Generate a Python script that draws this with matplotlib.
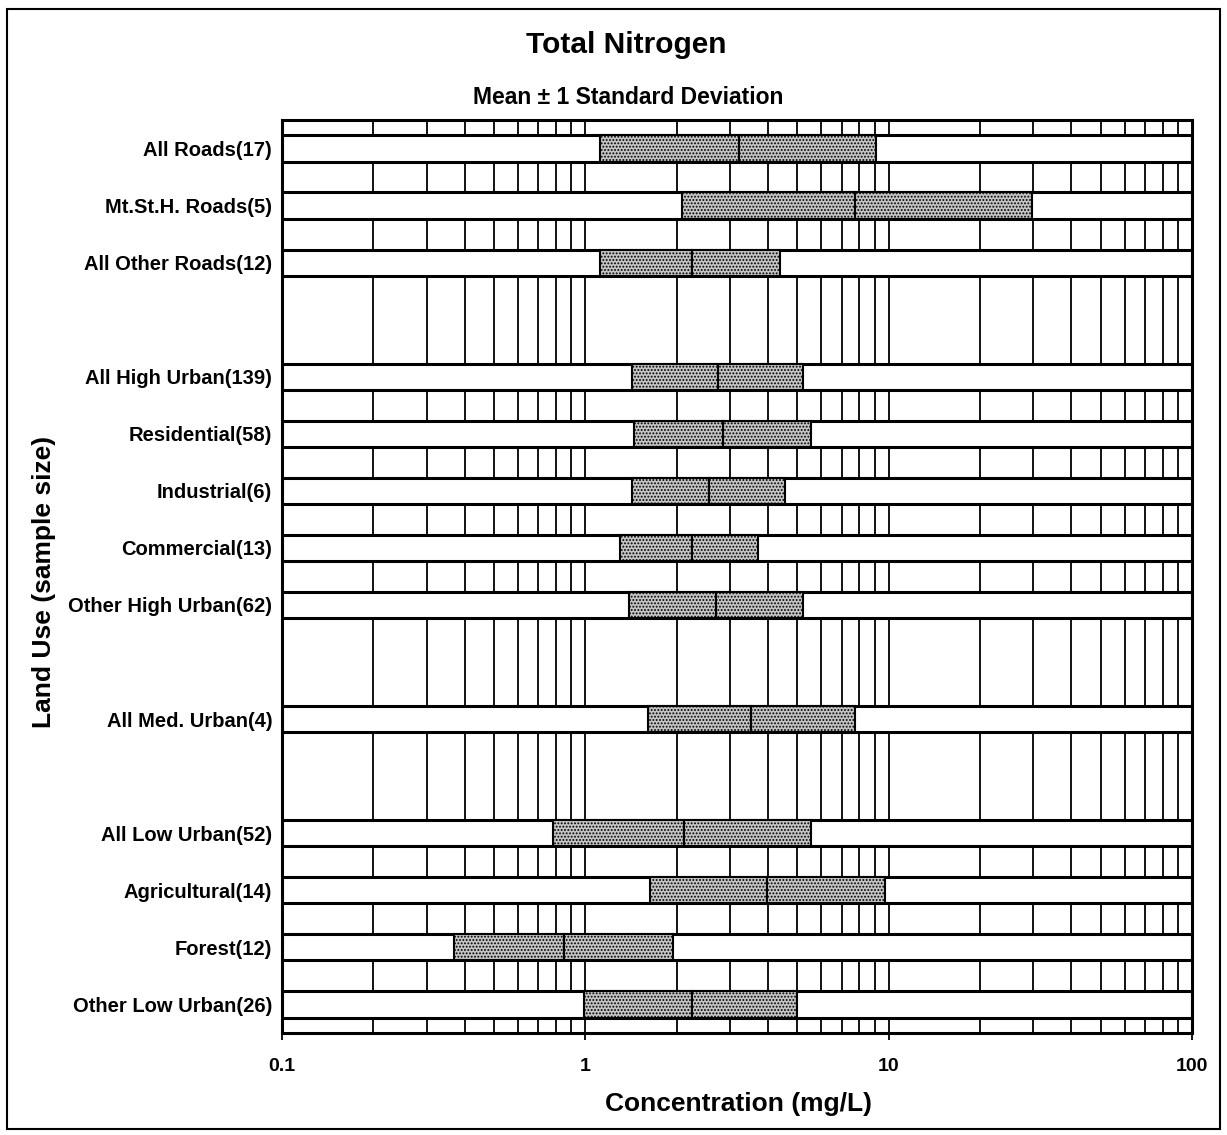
import numpy as np
import matplotlib.pyplot as plt
from matplotlib.patches import Rectangle

# categorias (de arriba hacia abajo) y su posicion de fila
labels = ['All Roads(17)', 'Mt.St.H. Roads(5)', 'All Other Roads(12)',
          'All High Urban(139)', 'Residential(58)', 'Industrial(6)',
          'Commercial(13)', 'Other High Urban(62)',
          'All Med. Urban(4)',
          'All Low Urban(52)', 'Agricultural(14)', 'Forest(12)',
          'Other Low Urban(26)']
rows = [0, 1, 2, 4, 5, 6, 7, 8, 10, 12, 13, 14, 15]

# media - 1 DE, media, media + 1 DE (mg/L)
lower = [1.12, 2.09, 1.12, 1.42, 1.45, 1.42, 1.30, 1.39, 1.61, 0.78, 1.63, 0.37, 0.99]
mean = [3.20, 7.72, 2.25, 2.73, 2.85, 2.55, 2.24, 2.69, 3.53, 2.11, 3.96, 0.85, 2.24]
upper = [9.06, 29.6, 4.37, 5.20, 5.53, 4.54, 3.72, 5.20, 7.72, 5.53, 9.70, 1.94, 4.97]

xticks = [0.1, 1, 10, 100]
xticklabels = ['0.1', '1', '10', '100']

plt.rcParams['font.family'] = ['Liberation Sans', 'DejaVu Sans']
plt.rcParams['hatch.color'] = '#7a7a7a'
plt.rcParams['hatch.linewidth'] = 0.9

fig = plt.figure(figsize=(12.27, 11.35), dpi=100)
ax = fig.add_axes([0.2298, 0.0899, 0.9715 - 0.2298, 0.8943 - 0.0899])

ax.set_xscale('log')
ax.set_xlim(0.1, 100)
ax.set_ylim(15.5, -0.5)

# lineas verticales de la cuadricula
grid = [m * 10.0 ** e for e in (-1, 0, 1) for m in range(1, 10)] + [100]
for g in grid:
    ax.axvline(g, color='black', lw=1.3, zorder=1)

h = 0.46
for r, lo, me, up in zip(rows, lower, mean, upper):
    # barra blanca a lo ancho de todo el eje
    ax.barh(r, 100 - 0.1, left=0.1, height=h, color='white',
            edgecolor='black', lw=2.2, zorder=2)
    ax.barh(r, me - lo, left=lo, height=h, color='#c4c4c4',
            edgecolor='black', lw=1.5, hatch='.....', zorder=3)
    ax.barh(r, up - me, left=me, height=h, color='#c4c4c4',
            edgecolor='black', lw=1.5, hatch='.....', zorder=3)

ax.set_yticks(rows)
ax.set_yticklabels(labels, fontsize=14.5, fontweight='bold')
ax.tick_params(axis='y', length=0, pad=7)
ax.set_xticks(xticks)
ax.set_xticklabels(xticklabels, fontsize=14, fontweight='bold')
ax.xaxis.set_minor_locator(plt.NullLocator())
ax.tick_params(axis='x', length=5, width=1.3, direction='out', pad=13)

for s in ax.spines.values():
    s.set_linewidth(2.2)

fig.text(0.602, 1 - 1104 / 1135, 'Concentration (mg/L)', ha='center', va='center',
         fontsize=19, fontweight='bold')
fig.text(44 / 1227, 1 - 582 / 1135, 'Land Use (sample size)', ha='center', va='center',
         rotation=90, fontsize=19, fontweight='bold')

fig.text(0.51, 1 - 45 / 1135, 'Total Nitrogen', ha='center', va='center',
         fontsize=21.5, fontweight='bold')
fig.text(0.512, 1 - 97 / 1135, 'Mean \u00b1 1 Standard Deviation', ha='center', va='center',
         fontsize=16.5, fontweight='bold')

# marco de la figura
fig.patches.append(Rectangle((0.006, 0.005), 0.988, 0.987, transform=fig.transFigure,
                             fill=False, edgecolor='black', lw=1.5))

fig.savefig('out.png', dpi=100)
